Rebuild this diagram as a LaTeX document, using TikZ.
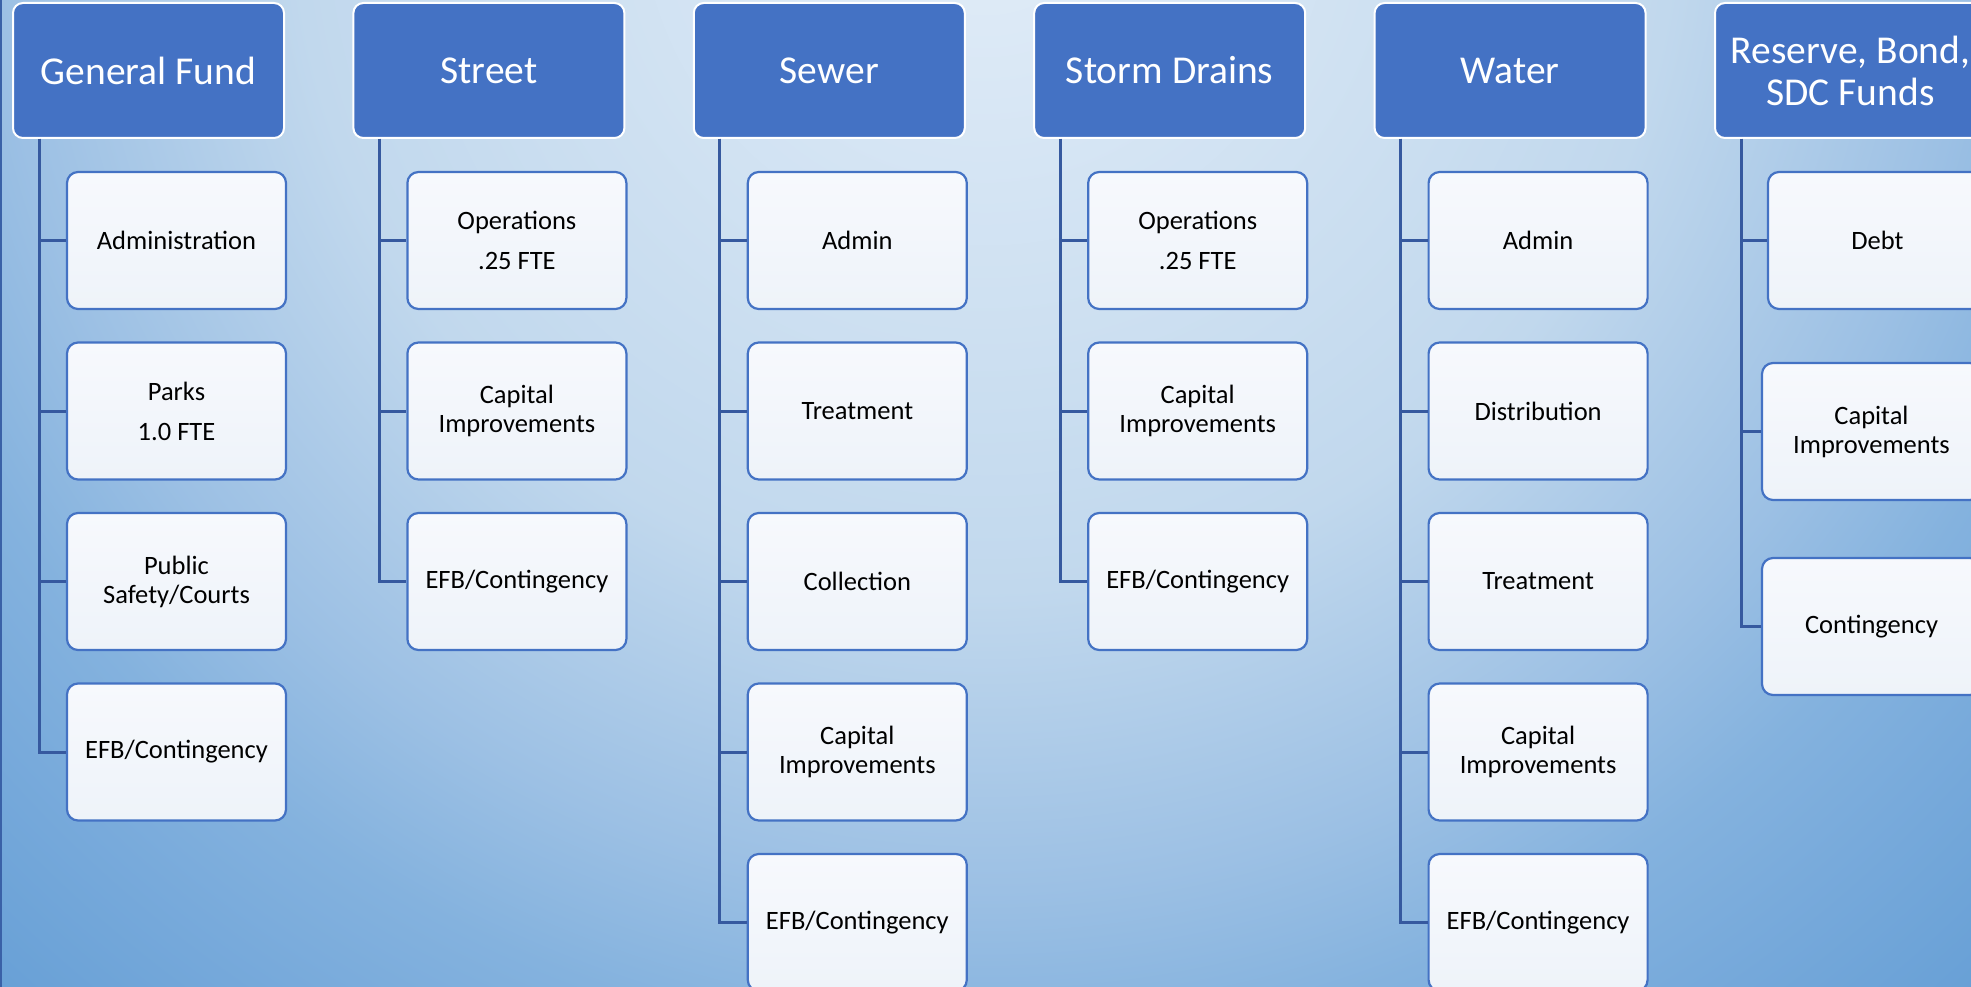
\documentclass[tikz,border=0pt]{standalone}
\usepackage{fontspec}
\setmainfont{Carlito}
\definecolor{bgA}{HTML}{E2EDF8}
\definecolor{bgB}{HTML}{C1D8ED}
\definecolor{bgC}{HTML}{9CC0E4}
\definecolor{bgD}{HTML}{84B2DE}
\definecolor{bgE}{HTML}{78AADB}
\definecolor{bgF}{HTML}{68A0D6}
\definecolor{hdrblue}{HTML}{4472C4}
\definecolor{connblue}{HTML}{36599F}
\definecolor{childtop}{HTML}{F7F9FD}
\definecolor{childbot}{HTML}{EEF3F9}
\pgfdeclareradialshading{bgshade}{\pgfpoint{0bp}{0bp}}{color(0bp)=(bgA); color(11.5bp)=(bgB); color(16.5bp)=(bgC); color(19.2bp)=(bgD); color(21.4bp)=(bgE); color(24.5bp)=(bgF); color(50bp)=(bgF)}
\tikzset{
  hdr/.style={draw=white, line width=2pt, fill=hdrblue, rounded corners=10pt,
    minimum width=271pt, minimum height=135pt, inner sep=0pt, align=center,
    text=white, font=\fontsize{39.5}{42}\selectfont},
  child/.style={draw=hdrblue, line width=2.2pt, top color=childtop, bottom color=childbot,
    rounded corners=11pt, minimum width=219pt, minimum height=137pt, inner sep=0pt,
    align=center, text=black, font=\fontsize{26.5}{29}\selectfont},
  conn/.style={draw=connblue, line width=3pt},
}
\begin{document}
\begin{tikzpicture}[x=1pt,y=-1pt]
\useasboundingbox (0,0) rectangle (1971,987);
\begin{scope}
\clip (0,0) rectangle (1971,987);
\shade[shading=bgshade] (-515,-1600) rectangle (2485,1400);
\draw[color=hdrblue!85!black, line width=2pt] (1,0) -- (1,987);

% General Fund
\node[hdr] (gf) at (148.5,70.5) {General Fund};
\node[child] (gf1) at (176.5,240.5) {Administration};
\node[child] (gf2) at (176.5,411) {Parks\\[11pt]1.0 FTE};
\node[child] (gf3) at (176.5,581.5) {Public\\Safety/Courts};
\node[child] (gf4) at (176.5,752) {EFB/Contingency};
\foreach \c in {gf1,gf2,gf3,gf4} \draw[conn] (gf.south west) ++(27,0) |- (\c.west);

% Street
\node[hdr] (st) at (488.9,70.5) {Street};
\node[child] (st1) at (516.9,240.5) {Operations\\[11pt].25 FTE};
\node[child] (st2) at (516.9,411) {Capital\\Improvements};
\node[child] (st3) at (516.9,581.5) {EFB/Contingency};
\foreach \c in {st1,st2,st3} \draw[conn] (st.south west) ++(27,0) |- (\c.west);

% Sewer
\node[hdr] (sw) at (829.3,70.5) {Sewer};
\node[child] (sw1) at (857.3,240.5) {Admin};
\node[child] (sw2) at (857.3,411) {Treatment};
\node[child] (sw3) at (857.3,581.5) {Collection};
\node[child] (sw4) at (857.3,752) {Capital\\Improvements};
\node[child] (sw5) at (857.3,922.5) {EFB/Contingency};
\foreach \c in {sw1,sw2,sw3,sw4,sw5} \draw[conn] (sw.south west) ++(27,0) |- (\c.west);

% Storm Drains
\node[hdr] (sd) at (1169.7,70.5) {Storm Drains};
\node[child] (sd1) at (1197.7,240.5) {Operations\\[11pt].25 FTE};
\node[child] (sd2) at (1197.7,411) {Capital\\Improvements};
\node[child] (sd3) at (1197.7,581.5) {EFB/Contingency};
\foreach \c in {sd1,sd2,sd3} \draw[conn] (sd.south west) ++(27,0) |- (\c.west);

% Water
\node[hdr] (wt) at (1510.1,70.5) {Water};
\node[child] (wt1) at (1538.1,240.5) {Admin};
\node[child] (wt2) at (1538.1,411) {Distribution};
\node[child] (wt3) at (1538.1,581.5) {Treatment};
\node[child] (wt4) at (1538.1,752) {Capital\\Improvements};
\node[child] (wt5) at (1538.1,922.5) {EFB/Contingency};
\foreach \c in {wt1,wt2,wt3,wt4,wt5} \draw[conn] (wt.south west) ++(27,0) |- (\c.west);

% Reserve, Bond, SDC Funds
\node[hdr] (rs) at (1850.5,70.5) {Reserve, Bond,\\SDC Funds};
\node[child] (rs1) at (1877.5,240.5) {Debt};
\node[child] (rs2) at (1871.5,431.5) {Capital\\Improvements};
\node[child] (rs3) at (1871.5,626.5) {Contingency};
\foreach \c in {rs1,rs2,rs3} \draw[conn] (rs.south west) ++(27,0) |- (\c.west);
\end{scope}
\end{tikzpicture}
\end{document}
